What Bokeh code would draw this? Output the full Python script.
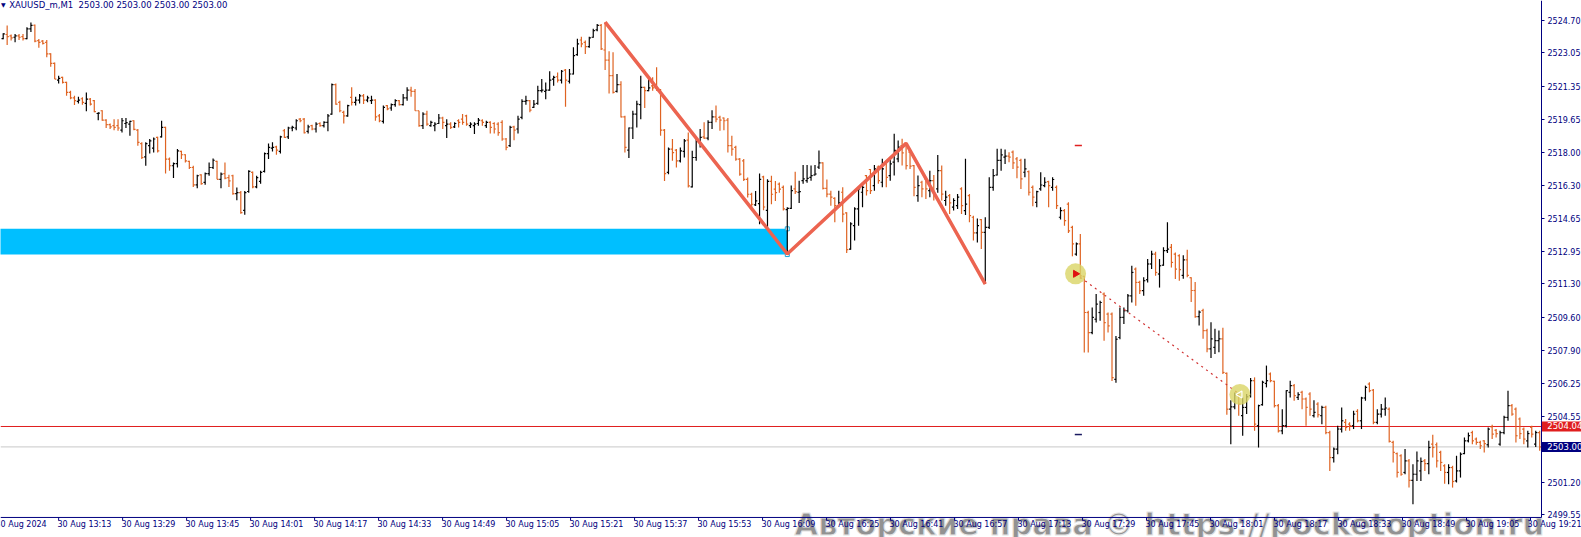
from bokeh.plotting import figure
from bokeh.models import (Range1d, FixedTicker, LinearAxis, Label,
                          NumeralTickFormatter, ColumnDataSource)
from bokeh.embed import file_html
from bokeh.resources import INLINE

# ---------------- data (XAUUSD_m, M1, 30 Aug 2024, bars from 12:59) ----------------
opens = [
2523.78,2523.99,2523.92,2523.85,2523.92,2523.88,2523.78,2524.28,2524.46,2523.68,
2523.65,2523.59,2523.00,2522.52,2521.67,2521.81,2521.55,2521.04,2520.76,2520.59,
2520.72,2520.48,2520.70,2520.62,2519.97,2520.11,2519.63,2519.40,2519.35,2519.35,
2519.12,2519.46,2519.43,2519.60,2519.12,2518.44,2517.76,2518.33,2518.21,2518.75,
2518.78,2519.26,2517.65,2517.31,2517.42,2518.04,2517.87,2517.53,2517.22,2516.34,
2516.85,2516.46,2516.91,2517.22,2517.53,2516.62,2516.91,2516.71,2516.80,2515.89,
2515.94,2515.04,2516.00,2516.97,2516.23,2516.51,2517.02,2517.93,2518.21,2518.27,
2518.04,2519.09,2518.78,2519.23,2519.23,2519.68,2519.68,2519.06,2519.35,2519.18,
2519.46,2519.35,2519.52,2519.94,2521.44,2520.54,2520.03,2519.85,2520.79,2520.54,
2520.65,2520.87,2520.65,2520.62,2520.65,2519.85,2519.57,2520.37,
2520.25,2520.42,2520.62,2520.42,2520.76,2521.16,2521.10,2520.11,2519.35,2519.94,
2519.35,2519.35,2519.46,2519.74,2519.35,2519.43,2519.29,2519.60,2519.68,2519.85,
2519.35,2519.35,2519.46,2519.60,2519.35,2519.52,2519.46,2519.43,2519.52,2518.67,
2518.33,2519.29,2519.18,2519.77,2520.59,2520.62,2520.28,2520.48,2521.13,2521.10,
2521.16,2521.72,2521.84,2521.67,2522.18,2521.61,2521.98,2522.97,2523.71,2523.59,
2523.37,2523.85,2524.22,2524.45,2523.20,2522.69,2521.90,2521.10,2521.44,2519.80,
2518.10,2519.23,2519.94,2520.42,2521.30,2521.13,2521.38,2521.27,2521.16,2519.12,
2516.97,2518.16,2518.10,2517.56,2518.04,2518.61,2516.23,2517.73,2518.55,2518.78,
2518.72,2519.52,2519.80,2519.77,2519.74,2519.63,2518.33,2518.24,2517.65,2517.56,
2516.62,2515.86,2515.32,2515.38,2516.74,2515.04,2516.51,2516.12,2516.37,
2516.21,2515.08,2515.14,2516.13,2515.96,2516.55,2516.55,2516.72,2516.84,2517.24,
2517.46,2516.16,2515.87,2515.65,2515.28,2515.96,2514.91,2513.07,2514.26,2515.11,
2515.96,2516.81,2517.12,2516.30,2517.24,2516.47,2517.49,2516.81,2517.49,2517.66,
2518.34,2518.43,2518.00,2517.32,2515.79,2516.47,2516.64,2516.04,2516.55,2516.13,
2517.06,2515.54,2515.79,2515.20,2515.28,2516.13,2515.03,2515.79,2514.69,2513.89,
2514.57,2513.92,2514.17,2516.21,2516.84,2517.58,2517.75,2517.80,2518.00,2517.66,
2517.58,2516.98,2517.01,2516.21,2515.45,2516.13,2516.30,2516.50,2516.21,2516.21,
2514.69,2515.03,2515.36,2514.17,2512.81,2513.33,2511.68,2509.84,2508.82,2509.50,
2509.84,2510.78,2509.76,2509.76,2506.44,2508.57,2509.59,2509.93,2510.69,2512.05,
2511.37,2510.95,2511.51,2512.31,2512.81,2511.80,2512.25,2512.99,2513.16,2512.81,
2512.73,
2511.73,2512.52,2511.61,2510.96,2509.63,2509.94,2508.92,2507.99,2508.07,2508.41,
2508.50,2506.74,2504.92,2505.04,2505.66,2504.59,2505.01,2505.61,2506.37,2504.08,
2505.15,2506.23,2506.71,2506.34,2505.10,2503.82,2504.08,2505.78,2506.12,2505.52,
2505.78,2505.44,2505.69,2504.59,2505.18,2504.59,2505.01,2503.73,2502.46,2502.89,
2503.91,2504.25,2504.16,2504.08,2504.81,2504.33,2505.49,2506.20,2505.89,2504.25,
2504.67,2504.92,2504.92,2503.23,2502.66,2502.55,2501.70,2502.29,2501.30,2501.61,
2501.78,2502.29,2502.15,2503.14,2503.11,2502.72,2502.04,2501.70,2501.95,2501.27,
2501.78,2502.66,2503.31,2503.73,2503.40,2503.23,2503.31,2503.11,2504.02,2503.85,
2503.14,2503.73,2504.50,2505.10,2504.92,2504.42,2503.91,2503.31,2503.99,2503.14,
2503.73]

highs = [
2524.05,2524.45,2523.99,2524.02,2524.02,2524.02,2524.36,2524.60,2524.50,2523.76,
2523.71,2523.71,2523.03,2522.57,2521.89,2521.84,2521.59,2521.13,2520.87,2520.82,
2520.79,2521.04,2520.76,2520.65,2520.03,2520.14,2519.68,2519.46,2519.68,2519.68,
2519.74,2519.74,2519.60,2519.63,2519.18,2518.50,2518.50,2518.67,2518.75,2518.78,
2519.60,2519.29,2517.73,2517.48,2518.16,2518.07,2517.90,2517.56,2517.31,2516.85,
2516.88,2516.96,2517.48,2517.68,2517.56,2516.96,2517.48,2516.85,2516.85,2516.20,
2516.03,2516.03,2517.08,2517.02,2516.80,2517.05,2517.98,2518.44,2518.50,2518.33,
2518.84,2519.18,2519.29,2519.35,2519.68,2519.74,2519.74,2519.40,2519.40,2519.52,
2519.52,2519.57,2519.94,2521.50,2521.50,2520.62,2520.11,2520.42,2521.30,2520.82,
2520.96,2520.96,2520.87,2520.87,2520.70,2519.94,2520.37,2520.40,
2520.48,2520.70,2520.65,2520.96,2521.30,2521.33,2521.22,2520.11,2520.03,2520.11,
2519.60,2519.52,2519.94,2519.80,2519.68,2519.52,2519.52,2519.68,2519.94,2519.91,
2519.52,2519.52,2519.74,2519.68,2519.60,2519.57,2519.52,2519.52,2519.63,2518.72,
2519.35,2519.35,2519.85,2520.70,2520.87,2520.65,2520.65,2521.38,2521.72,2521.55,
2522.12,2521.89,2522.06,2522.18,2522.24,2522.24,2523.34,2523.77,2523.88,2523.68,
2523.88,2524.28,2524.53,2524.53,2524.62,2523.14,2523.09,2521.98,2521.61,2519.85,
2519.26,2520.11,2520.62,2521.89,2521.33,2521.72,2521.81,2522.32,2521.22,2519.18,
2518.24,2518.67,2518.16,2518.24,2518.67,2519.00,2518.07,2518.75,2519.18,2519.52,
2519.63,2520.14,2520.37,2519.85,2519.77,2519.74,2518.84,2518.33,2517.70,2517.65,
2516.71,2515.94,2516.03,2516.91,2516.80,2516.62,2516.80,2516.54,2516.46,
2516.30,2515.20,2516.30,2517.01,2516.55,2517.35,2517.35,2517.32,2517.35,2518.09,
2517.49,2516.61,2516.04,2515.71,2516.04,2516.21,2514.94,2514.43,2515.20,2516.21,
2516.47,2516.84,2517.15,2517.35,2517.32,2517.66,2517.58,2517.66,2518.94,2518.60,
2518.68,2518.51,2518.09,2517.35,2516.81,2516.55,2516.72,2517.06,2516.84,2517.86,
2517.32,2516.04,2515.87,2515.65,2515.87,2516.21,2517.66,2515.87,2514.77,2514.63,
2514.60,2514.69,2516.72,2517.15,2518.17,2518.17,2518.14,2518.00,2518.09,2517.75,
2517.66,2517.66,2517.07,2516.30,2516.04,2516.98,2516.72,2516.55,2516.72,2516.30,
2515.20,2515.11,2515.45,2514.26,2513.41,2513.84,2511.71,2509.93,2510.09,2510.78,
2510.44,2510.86,2509.84,2509.84,2508.65,2510.09,2510.09,2510.78,2512.22,2512.13,
2511.46,2511.63,2512.56,2512.99,2512.93,2512.56,2513.16,2514.43,2513.33,2512.90,
2512.81,
2512.75,2513.03,2511.64,2511.39,2509.94,2510.03,2509.01,2509.35,2509.01,2508.92,
2509.06,2506.79,2505.38,2505.77,2505.69,2505.52,2505.69,2506.51,2506.54,2505.15,
2506.37,2507.14,2506.79,2506.37,2505.18,2504.92,2505.89,2506.37,2506.20,2505.78,
2505.86,2505.52,2505.78,2505.38,2505.27,2505.10,2505.10,2503.82,2502.97,2504.08,
2505.01,2504.42,2504.25,2504.84,2504.92,2505.55,2506.12,2506.29,2505.95,2504.92,
2505.18,2505.52,2505.01,2503.31,2502.72,2502.63,2502.89,2502.38,2502.12,2502.77,
2502.46,2502.38,2503.31,2503.62,2503.23,2502.80,2502.12,2502.12,2502.04,2502.55,
2502.72,2503.48,2503.73,2503.82,2503.48,2503.31,2503.34,2503.99,2504.13,2503.91,
2503.82,2504.59,2505.86,2505.18,2505.01,2504.50,2503.99,2503.82,2504.08,2503.82,
2503.82]

lows = [
2523.75,2523.46,2523.68,2523.59,2523.71,2523.68,2523.75,2524.12,2523.59,2523.31,
2523.48,2522.83,2522.35,2521.72,2521.50,2521.50,2520.87,2520.70,2520.40,2520.48,
2520.42,2520.08,2520.37,2520.03,2519.63,2519.60,2519.23,2519.18,2519.12,2519.09,
2519.00,2519.23,2518.84,2519.12,2518.33,2517.65,2517.31,2517.93,2517.98,2517.98,
2518.75,2516.91,2517.05,2516.68,2517.22,2517.65,2517.48,2517.14,2516.23,2516.17,
2516.34,2516.34,2516.80,2517.14,2516.62,2516.17,2516.62,2516.23,2515.83,2515.55,
2514.87,2514.81,2515.94,2516.17,2516.17,2516.40,2516.97,2517.65,2518.04,2517.87,
2517.93,2518.72,2518.67,2519.06,2519.12,2519.52,2518.95,2518.95,2519.12,2519.00,
2519.29,2519.26,2519.06,2519.91,2520.42,2520.03,2519.46,2519.80,2520.37,2520.37,
2520.48,2520.45,2520.54,2520.45,2519.60,2519.52,2519.46,2520.14,
2520.11,2520.31,2520.37,2520.37,2520.62,2520.82,2520.11,2519.29,2519.18,2519.35,
2519.29,2519.06,2519.43,2519.18,2518.72,2519.18,2519.23,2519.26,2519.40,2519.35,
2519.23,2518.92,2519.35,2519.35,2519.23,2518.95,2518.95,2518.84,2518.58,2518.10,
2518.27,2518.61,2518.95,2519.68,2520.42,2520.03,2520.25,2520.42,2521.04,2520.70,
2521.13,2521.38,2521.55,2521.50,2520.31,2521.50,2521.95,2522.91,2523.34,2523.00,
2523.31,2523.82,2524.16,2523.20,2522.18,2520.99,2520.99,2521.04,2519.77,2517.98,
2517.70,2518.67,2519.26,2519.68,2520.25,2521.10,2521.13,2521.13,2518.84,2516.54,
2516.88,2517.56,2517.22,2517.48,2517.73,2516.20,2516.20,2517.56,2518.24,2518.67,
2518.61,2519.18,2519.52,2519.09,2519.12,2517.98,2517.82,2517.56,2516.80,2516.54,
2515.69,2515.18,2515.26,2514.33,2515.04,2514.07,2515.35,2515.52,2515.94,
2515.03,2512.82,2515.11,2515.87,2515.42,2516.39,2516.44,2516.55,2516.81,2517.15,
2516.10,2515.71,2515.28,2514.43,2515.20,2514.43,2512.87,2513.04,2513.50,2514.26,
2515.20,2515.79,2515.87,2516.04,2516.39,2516.21,2516.21,2516.55,2516.81,2517.49,
2517.32,2517.12,2517.15,2515.76,2515.48,2515.71,2515.62,2515.71,2515.54,2515.93,
2515.54,2515.28,2514.85,2515.03,2515.11,2514.85,2514.80,2514.43,2513.50,2513.41,
2513.07,2511.29,2514.09,2516.04,2516.81,2517.06,2517.40,2517.49,2517.15,2516.67,
2516.13,2516.72,2515.79,2515.25,2515.20,2516.04,2516.21,2515.20,2516.04,2515.11,
2514.57,2514.26,2513.89,2512.70,2512.73,2511.54,2507.80,2507.80,2508.74,2509.33,
2509.42,2508.40,2508.82,2506.36,2506.27,2508.48,2509.25,2509.84,2510.35,2510.18,
2510.78,2510.69,2511.37,2512.05,2511.71,2511.11,2512.22,2512.87,2512.13,2511.54,
2511.46,
2511.56,2511.64,2510.37,2509.57,2509.18,2508.50,2507.82,2507.53,2507.73,2507.82,
2506.71,2504.64,2503.14,2504.92,2504.59,2503.57,2504.67,2505.52,2503.82,2502.97,
2505.10,2506.03,2506.29,2505.01,2503.73,2503.65,2503.99,2505.52,2505.35,2505.39,
2504.92,2504.08,2504.59,2504.50,2504.50,2504.16,2503.65,2501.78,2502.21,2502.63,
2503.73,2503.82,2503.82,2503.91,2504.25,2503.91,2505.35,2505.78,2504.16,2504.16,
2504.50,2504.59,2503.23,2502.21,2501.44,2501.53,2501.61,2500.93,2500.08,2501.27,
2501.27,2501.78,2501.61,2502.46,2501.95,2501.78,2501.13,2501.10,2500.93,2501.19,
2501.44,2502.63,2503.23,2503.14,2503.11,2502.89,2502.72,2502.97,2503.40,2503.48,
2503.06,2503.65,2504.33,2504.59,2503.23,2503.40,2503.14,2502.97,2503.48,2503.00,
2502.80]

closes = [
2524.02,2523.88,2523.82,2523.92,2523.85,2523.78,2524.28,2524.45,2523.65,2523.59,
2523.54,2523.00,2522.52,2521.72,2521.76,2521.55,2521.04,2520.76,2520.62,2520.65,
2520.54,2520.70,2520.45,2520.06,2519.99,2519.63,2519.40,2519.29,2519.26,2519.23,
2519.60,2519.50,2519.57,2519.16,2518.50,2517.73,2518.44,2518.58,2518.67,2518.07,
2519.26,2517.65,2517.31,2517.42,2518.07,2517.87,2517.56,2517.22,2516.34,2516.80,
2516.40,2516.91,2517.22,2517.59,2516.62,2516.88,2516.68,2516.54,2515.89,2515.94,
2514.92,2515.94,2517.02,2516.23,2516.71,2516.97,2517.93,2518.24,2518.24,2518.10,
2518.78,2518.75,2519.23,2519.26,2519.60,2519.60,2518.99,2519.29,2519.18,2519.43,
2519.35,2519.52,2519.85,2521.44,2520.45,2520.11,2519.85,2520.37,2520.54,2520.65,
2520.87,2520.65,2520.76,2520.65,2519.80,2519.60,2520.28,2520.20,
2520.42,2520.62,2520.42,2520.76,2521.16,2521.10,2520.11,2519.35,2519.94,2519.43,
2519.52,2519.43,2519.74,2519.52,2519.43,2519.26,2519.46,2519.52,2519.52,2519.43,
2519.43,2519.43,2519.63,2519.52,2519.52,2519.26,2519.18,2519.00,2518.67,2518.24,
2519.26,2519.12,2519.68,2520.59,2520.62,2520.14,2520.45,2521.13,2521.16,2521.16,
2521.67,2521.81,2521.67,2522.12,2521.67,2521.98,2522.91,2523.51,2523.51,2523.37,
2523.82,2524.19,2524.45,2523.26,2522.69,2521.90,2521.04,2521.44,2519.80,2518.24,
2519.23,2519.94,2520.45,2521.30,2521.13,2521.27,2521.27,2521.16,2519.12,2516.91,
2518.16,2517.98,2517.56,2518.07,2518.58,2516.29,2517.73,2518.55,2518.75,2518.72,
2519.52,2519.80,2519.68,2519.63,2519.60,2518.33,2518.16,2517.65,2516.88,2516.62,
2515.86,2515.35,2515.52,2516.62,2515.21,2516.51,2515.86,2515.94,2516.12,
2515.11,2515.14,2516.04,2515.99,2515.99,2516.64,2516.67,2516.81,2516.89,2517.46,
2516.16,2515.87,2515.71,2515.28,2515.42,2514.85,2513.04,2514.35,2515.11,2516.13,
2516.21,2516.04,2516.04,2517.15,2516.55,2517.15,2516.72,2517.41,2518.09,2518.26,
2517.97,2517.32,2517.29,2516.21,2516.30,2516.13,2516.13,2516.55,2515.87,2517.06,
2515.87,2515.71,2515.42,2515.54,2515.71,2515.28,2515.36,2514.77,2513.89,2514.26,
2513.92,2514.17,2516.21,2516.81,2517.58,2517.86,2517.80,2517.75,2517.46,2517.24,
2516.64,2517.15,2515.96,2515.71,2515.99,2516.33,2516.47,2516.30,2516.61,2515.28,
2515.03,2514.52,2514.00,2513.33,2513.33,2511.71,2509.84,2508.82,2509.59,2510.27,
2510.35,2509.33,2509.16,2506.53,2508.48,2509.59,2509.93,2510.69,2511.88,2511.37,
2510.95,2511.46,2512.31,2512.81,2511.88,2512.22,2512.99,2513.07,2512.39,2512.05,
2512.02,
2512.52,2511.73,2510.96,2509.63,2509.86,2508.92,2507.99,2508.50,2508.41,2508.50,
2506.79,2504.92,2505.04,2505.66,2505.18,2505.01,2505.55,2506.37,2504.16,2505.10,
2506.29,2506.37,2506.37,2505.10,2503.82,2504.08,2505.86,2506.12,2505.61,2505.66,
2505.44,2505.01,2504.92,2504.76,2504.64,2505.01,2503.73,2502.46,2502.89,2503.91,
2504.33,2503.99,2504.08,2504.67,2504.33,2505.49,2506.03,2505.86,2504.25,2504.67,
2504.92,2504.98,2503.28,2502.72,2501.70,2501.61,2502.29,2501.30,2501.61,2502.29,
2502.26,2502.15,2502.97,2502.97,2502.29,2502.21,2501.70,2501.95,2501.24,2501.78,
2502.63,2503.31,2503.57,2503.31,2503.23,2503.06,2503.17,2503.91,2503.65,2503.68,
2503.73,2504.50,2505.10,2504.67,2503.57,2503.68,2503.40,2503.68,2503.65,2503.73,
2503.00]

# time scale: one label every 16 minutes, tick positions in bar units
time_tick_pos = [-1.16, 15.00, 31.16, 47.32, 63.48, 79.64, 95.80, 111.96, 128.12,
                 144.28, 160.44, 176.60, 192.76, 208.92, 225.08, 241.24, 257.40,
                 273.56, 289.72, 305.88, 322.04, 338.20, 354.36, 370.52, 386.68]
time_tick_labels = ["30 Aug 2024", "30 Aug 13:13", "30 Aug 13:29", "30 Aug 13:45",
                    "30 Aug 14:01", "30 Aug 14:17", "30 Aug 14:33", "30 Aug 14:49",
                    "30 Aug 15:05", "30 Aug 15:21", "30 Aug 15:37", "30 Aug 15:53",
                    "30 Aug 16:09", "30 Aug 16:25", "30 Aug 16:41", "30 Aug 16:57",
                    "30 Aug 17:13", "30 Aug 17:29", "30 Aug 17:45", "30 Aug 18:01",
                    "30 Aug 18:17", "30 Aug 18:33", "30 Aug 18:49", "30 Aug 19:05",
                    "30 Aug 19:21"]
price_ticks = [2524.70, 2523.05, 2521.35, 2519.65, 2518.00, 2516.30, 2514.65, 2512.95,
               2511.30, 2509.60, 2507.90, 2506.25, 2504.55, 2501.20, 2499.55]

# drawn objects
zigzag_bars = [153, 199, 229, 249]
zigzag_prices = [2524.62, 2512.82, 2518.45, 2511.29]
zone_right_bar = 199
zone_top, zone_bottom = 2514.10, 2512.79
signal_bars = [271.8, 313.3]
signal_prices = [2511.81, 2505.67]
level_red = 2504.04
level_bid = 2503.00
tp_price, sl_price = 2518.34, 2503.63
tp_bars = [271.6, 273.4]

# ---------------- layout of the MT-style window ----------------
X0, X1 = 0.318, 399.56          # visible bar range of the whole window
Y0, Y1 = 2498.39, 2525.72       # visible price range of the whole window
AX = 389.45                     # price scale line (bar units)
AY = 2499.41                    # time scale line (price units)
NAVY = "#000080"
UP, DOWN = "#000000", "#DF6322"
FONT = "DejaVu Sans"

p = figure(width=1581, height=537, output_backend="svg", toolbar_location=None,
           x_range=Range1d(X0, X1), y_range=Range1d(Y0, Y1),
           x_axis_location=None, y_axis_location=None, title=None,
           min_border=0)
p.outline_line_color = None
p.background_fill_color = "white"
p.border_fill_color = "white"
p.grid.grid_line_color = None

# watermark (under the scales' texts)
p.add_layout(Label(x=200.85, y=2499.05, text="Авторские права © https://pocketoption.ru",
                   text_font=FONT, text_font_style="bold", text_font_size="30.5px",
                   text_color="#929292", text_outline_color="#E4E4E4", text_alpha=1.0,
                   text_baseline="alphabetic", level="underlay"))

# price scale
ya = LinearAxis(ticker=FixedTicker(ticks=price_ticks),
                formatter=NumeralTickFormatter(format="0.00"),
                fixed_location=AX, bounds=(AY, Y1))
ya.axis_line_color = NAVY
ya.major_tick_line_color = NAVY
ya.major_tick_in = 0
ya.major_tick_out = 3
ya.minor_tick_line_color = None
ya.major_label_standoff = 3
ya.major_label_text_font = FONT
ya.major_label_text_font_size = "8px"
ya.major_label_text_color = NAVY
p.add_layout(ya, "right")

# time scale: MT labels start just right of their tick (first one is cut by the edge)
label_pos = [round(b + 6.53, 2) for b in time_tick_pos[1:]]
xa = LinearAxis(ticker=FixedTicker(ticks=label_pos), fixed_location=AY,
                major_label_overrides={c: t for c, t in zip(label_pos, time_tick_labels[1:])})
xa.axis_line_color = None
xa.major_tick_line_color = None
xa.major_tick_in = 0
xa.major_tick_out = 0
xa.minor_tick_line_color = None
xa.minor_tick_out = 0
xa.major_label_standoff = 3
xa.major_label_text_font = FONT
xa.major_label_text_font_size = "8px"
xa.major_label_text_color = NAVY
p.add_layout(xa, "below")
p.add_layout(Label(x=time_tick_pos[0] + 0.2, y=AY, y_offset=-3, text=time_tick_labels[0],
                   text_font=FONT, text_font_size="8px", text_color=NAVY,
                   text_align="left", text_baseline="top"))
p.segment(x0=[X0], y0=[AY], x1=[AX], y1=[AY], line_color=NAVY, line_width=1)
p.segment(x0=time_tick_pos, y0=[AY] * len(time_tick_pos),
          x1=time_tick_pos, y1=[AY - 0.15] * len(time_tick_pos),
          line_color=NAVY, line_width=1)

# support zone
p.quad(left=[X0 - 5], right=[zone_right_bar], top=[zone_top], bottom=[zone_bottom],
       fill_color="#00BFFF", line_color=None)
p.scatter([zone_right_bar, zone_right_bar], [zone_top, zone_bottom], marker="square",
          size=4, fill_color="white", line_color="#1AA8DC", line_width=1)

# price levels
p.segment(x0=[X0], y0=[level_bid], x1=[AX], y1=[level_bid], line_color="#C8C8C8", line_width=1)
p.segment(x0=[X0], y0=[level_red], x1=[AX], y1=[level_red], line_color="#E01E1E", line_width=1)

# OHLC bars
idx = list(range(1, len(closes) + 1))
colors = [UP if c >= o else DOWN for o, c in zip(opens, closes)]
src = ColumnDataSource(dict(x=idx, xl=[i - 0.42 for i in idx], xr=[i + 0.42 for i in idx],
                            o=opens, h=highs, l=lows, c=closes, color=colors))
p.segment(x0="x", y0="l", x1="x", y1="h", line_color="color", line_width=1.2, source=src)
p.segment(x0="xl", y0="o", x1="x", y1="o", line_color="color", line_width=1.2, source=src)
p.segment(x0="x", y0="c", x1="xr", y1="c", line_color="color", line_width=1.2, source=src)

# zigzag
p.line(zigzag_bars, zigzag_prices, line_color="#EC6450", line_width=3.5)

# trade markers
p.segment(x0=[tp_bars[0]], y0=[tp_price], x1=[tp_bars[1]], y1=[tp_price],
          line_color="#E02020", line_width=1.5)
p.segment(x0=[tp_bars[0]], y0=[sl_price], x1=[tp_bars[1]], y1=[sl_price],
          line_color="#1A1A60", line_width=1.5)
p.line(signal_bars, signal_prices, line_color="#D03030", line_width=1.2, line_dash="2 4")
p.scatter(signal_bars, signal_prices, size=21, fill_color="#DAD465", fill_alpha=0.8,
          line_color=None)
p.scatter([signal_bars[0]], [signal_prices[0]], marker="triangle", angle=-1.5708,
          size=7, fill_color="#E01010", line_color="#E01010")
p.scatter([signal_bars[1]], [signal_prices[1]], marker="triangle", angle=1.5708,
          size=7, fill_color=None, line_color="white", line_width=1.2)

# header text
p.add_layout(Label(x=X0 + 0.15, y=2525.50, text="\u25bc", text_font=FONT,
                   text_font_size="6px", text_color=NAVY, text_baseline="middle"))
p.add_layout(Label(x=X0 + 2.2, y=2525.50,
                   text="XAUUSD_m,M1\u00a0 2503.00 2503.00 2503.00 2503.00",
                   text_font=FONT, text_font_size="8.5px", text_color=NAVY,
                   text_baseline="middle"))

# price boxes on the price scale
p.add_layout(Label(x=AX + 0.1, y=level_red, text="\u00a0\u00a02504.04",
                   text_font=FONT, text_font_size="8.5px", text_color="white",
                   background_fill_color="#E01E1E", text_baseline="middle", level="overlay"))
p.add_layout(Label(x=AX + 0.1, y=level_bid, text="\u00a0\u00a02503.00",
                   text_font=FONT, text_font_size="8.5px", text_color="white",
                   background_fill_color=NAVY, text_baseline="middle", level="overlay"))

open("out.html", "w").write(file_html(p, INLINE))
